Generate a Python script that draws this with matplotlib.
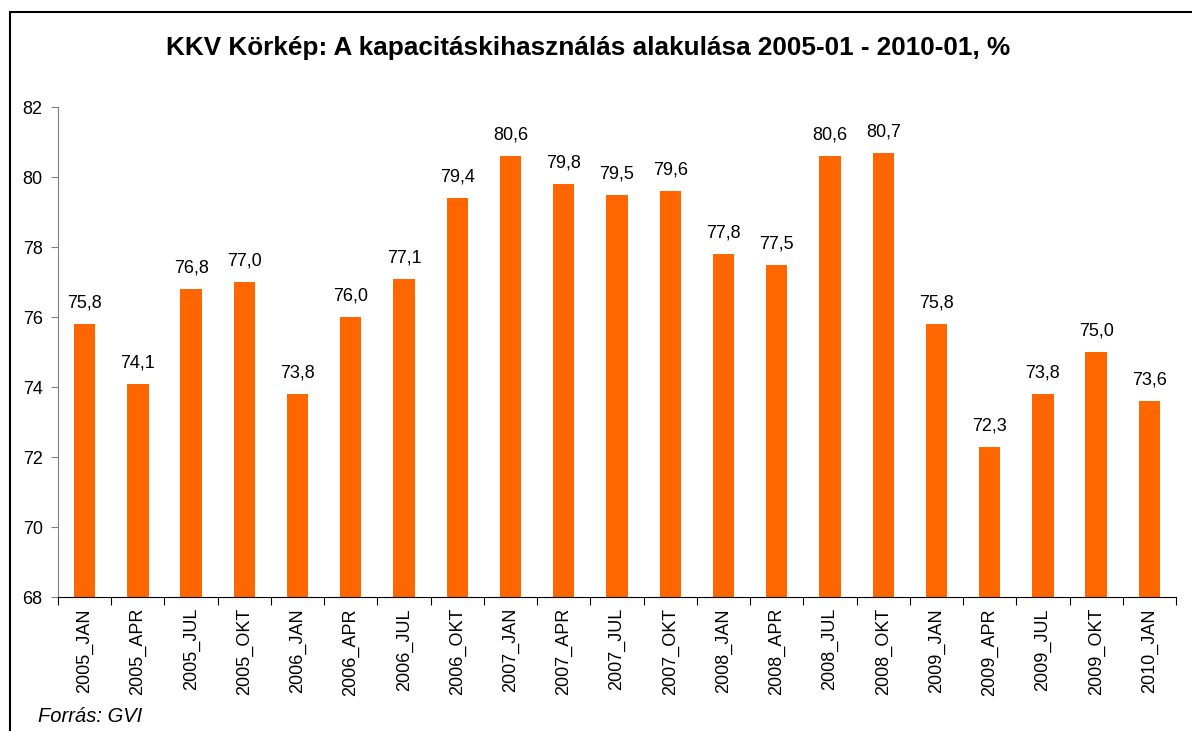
import matplotlib
matplotlib.use("Agg")
import matplotlib.pyplot as plt
from matplotlib.patches import Rectangle

plt.rcParams['font.family'] = ['Liberation Sans', 'DejaVu Sans']

categories = ["2005_JAN", "2005_APR", "2005_JUL", "2005_OKT",
              "2006_JAN", "2006_APR", "2006_JUL", "2006_OKT",
              "2007_JAN", "2007_APR", "2007_JUL", "2007_OKT",
              "2008_JAN", "2008_APR", "2008_JUL", "2008_OKT",
              "2009_JAN", "2009_APR", "2009_JUL", "2009_OKT",
              "2010_JAN"]
values = [75.8, 74.1, 76.8, 77.0, 73.8, 76.0, 77.1, 79.4, 80.6, 79.8, 79.5,
          79.6, 77.8, 77.5, 80.6, 80.7, 75.8, 72.3, 73.8, 75.0, 73.6]
yticks = [68, 70, 72, 74, 76, 78, 80, 82]

W, H = 1192, 731
fig = plt.figure(figsize=(W / 100, H / 100), dpi=100)
ax = fig.add_axes([58 / W, 1 - 597 / H, (1176 - 58) / W, (597 - 107) / H])

x = list(range(len(categories)))
ax.bar(x, values, width=0.4, color="#FF6600", zorder=2)
ax.set_xlim(-0.5, len(categories) - 0.5)
ax.set_ylim(68, 82)
ax.set_yticks(yticks)
ax.set_yticklabels([str(v) for v in yticks], fontsize=13)

for xi, v in zip(x, values):
    ax.text(xi, v + 0.35, f"{v:.1f}".replace(".", ","), ha="center", va="bottom", fontsize=13)

ax.set_xticks([i + 0.5 for i in range(-1, len(categories))], minor=False)
ax.set_xticklabels([])
ax.tick_params(axis="x", which="major", length=6, direction="out", color="black")
ax.set_xticks(x, minor=True)
ax.set_xticklabels(categories, minor=True, rotation=90, fontsize=13)
ax.tick_params(axis="x", which="minor", length=0, pad=8)
ax.tick_params(axis="y", length=5, direction="out", color="#808080", pad=6)

for s in ["top", "right"]:
    ax.spines[s].set_visible(False)
ax.spines["left"].set_color("#808080")
ax.spines["bottom"].set_color("black")

fig.text(588 / W, 1 - 48 / H, "KKV Körkép: A kapacitáskihasználás alakulása 2005-01 - 2010-01, %",
         ha="center", va="center", fontsize=18.8, fontweight="bold")
fig.text(38 / W, 1 - 717 / H, "Forrás: GVI", ha="left", va="center", fontsize=14.5, style="italic")

fig.patches.append(Rectangle((10 / W, -0.1), 1.2, 1 - 12 / H + 0.1, transform=fig.transFigure,
                             fill=False, edgecolor="black", linewidth=1.5))

fig.savefig("out.png", dpi=100)
